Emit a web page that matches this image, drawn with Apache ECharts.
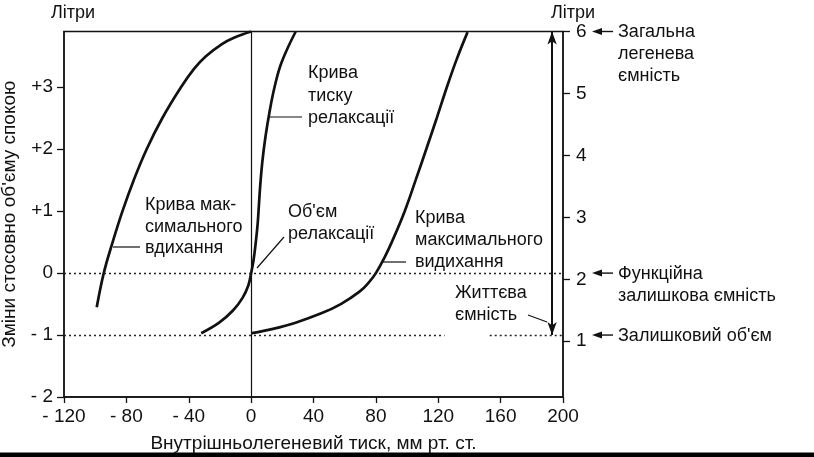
<!DOCTYPE html>
<html><head><meta charset="utf-8">
<script src="https://cdn.jsdelivr.net/npm/echarts@6/dist/echarts.min.js"></script>
<style>html,body{margin:0;padding:0;background:#fff}#c{width:814px;height:457px}</style>
</head><body><div id="c"></div>
<script>
// ---- data ----
const xTicks = [-120, -80, -40, 0, 40, 80, 120, 160, 200];
const leftTicks = [-2, -1, 0, 1, 2, 3];
const rightTicks = [1, 2, 3, 4, 5, 6];
// Крива максимального вдихання
const inspX = [-99, -94.5, -88.8, -82.5, -75.3, -67, -57, -45, -36.5, -29, -18.5, -11, 0];
const inspY = [-0.55, 0, 0.5, 1.0, 1.5, 2.0, 2.5, 3.0, 3.3, 3.5, 3.7, 3.8, 3.9];
// Крива тиску релаксації
const relX = [-32, -20.5, -11.5, -5.5, -1.8, 0, 1.5, 3, 4.2, 5, 5.8, 7.2, 9.2, 11.8, 15, 19.5, 28.6];
const relY = [-0.97, -0.8, -0.6, -0.4, -0.2, 0, 0.2, 0.5, 0.8, 1.1, 1.4, 1.8, 2.2, 2.6, 3.0, 3.4, 3.9];
// Крива максимального видихання
const expX = [0.5, 14, 28.5, 45, 57.5, 69.5, 75.5, 80, 85.5, 90.2, 98.5, 105.5, 112.3, 119, 125.5, 131.8, 138.8];
const expY = [-0.97, -0.9, -0.8, -0.65, -0.5, -0.3, -0.15, 0, 0.25, 0.5, 1.0, 1.5, 2.0, 2.5, 3.0, 3.45, 3.89];
// Об'єми (ліва шкала): рівень спокою 0, залишковий -1; життєва ємність від -1 до 3.9
const restLevel = 0;
const residualLevel = -1;
const vcTop = 3.9;
const vcX = 193;
const residualGap = [124, 153];
// Праві позначки (літри)
const rightMarks = [6, 2.1, 1.1];

const FONT = '"Liberation Sans", Arial, sans-serif';
const pairs = (xs, ys) => xs.map((x, i) => [x, ys[i]]);
const fmtX = v => v < 0 ? '- ' + (-v) : String(v);
const fmtL = v => v > 0 ? '+' + v : (v < 0 ? '- ' + (-v) : '0');

const chart = echarts.init(document.getElementById('c'), null, {renderer: 'canvas'});
const curveStyle = {color: '#111', width: 2.7};
const dotted = {color: '#222', width: 1.4, type: [2, 3]};

chart.setOption({
  animation: false,
  backgroundColor: '#fff',
  grid: {left: 64, right: 251, top: 31.5, bottom: 60, show: true, borderColor: '#111', borderWidth: 1.3, containLabel: false, outerBoundsMode: 'none'},
  xAxis: {
    type: 'value', min: -120, max: 200, interval: 40,
    axisLine: {show: true, onZero: false, lineStyle: {color: '#111', width: 1.5}},
    axisTick: {show: true, length: 6, lineStyle: {color: '#111', width: 1.3}, customValues: xTicks},
    axisLabel: {color: '#111', fontSize: 19, fontFamily: FONT, margin: 10, formatter: fmtX, customValues: xTicks},
    splitLine: {show: false},
    name: 'Внутрішньолегеневий тиск, мм рт. ст.', nameLocation: 'middle', nameGap: 37,
    nameTextStyle: {color: '#111', fontSize: 19, fontFamily: FONT}
  },
  yAxis: [{
    type: 'value', min: -2, max: 3.9, position: 'left',
    axisLine: {show: true, onZero: false, lineStyle: {color: '#111', width: 1.5}},
    axisTick: {show: true, length: 7, lineStyle: {color: '#111', width: 1.3}, customValues: leftTicks},
    axisLabel: {color: '#111', fontSize: 19, fontFamily: FONT, margin: 11, formatter: fmtL, customValues: leftTicks},
    splitLine: {show: false},
    name: 'Зміни стосовно об\'єму спокою', nameLocation: 'middle', nameGap: 45, nameRotate: 90,
    nameTextStyle: {color: '#111', fontSize: 19, fontFamily: FONT}
  }, {
    type: 'value', min: 0.1, max: 6.0, position: 'right',
    axisLine: {show: true, onZero: false, lineStyle: {color: '#111', width: 1.5}},
    axisTick: {show: true, length: 7, lineStyle: {color: '#111', width: 1.3}, customValues: rightTicks},
    axisLabel: {color: '#111', fontSize: 19, fontFamily: FONT, margin: 13, customValues: rightTicks},
    splitLine: {show: false}
  }],
  series: [{
    type: 'line', name: 'Крива максимального вдихання', data: pairs(inspX, inspY),
    smooth: 0.4, showSymbol: false, symbol: 'none', lineStyle: curveStyle, silent: true,
    markLine: {
      silent: true, symbol: ['none', 'none'], label: {show: false}, animation: false,
      data: [
        {xAxis: 0, lineStyle: {color: '#111', width: 1.2, type: 'solid'}},
        {yAxis: restLevel, lineStyle: dotted},
        [{coord: [-120, residualLevel], lineStyle: dotted}, {coord: [residualGap[0], residualLevel]}],
        [{coord: [residualGap[1], residualLevel], lineStyle: dotted}, {coord: [200, residualLevel]}],
        [{coord: [vcX, vcTop], symbol: 'arrow', symbolSize: [7, 13], lineStyle: {color: '#111', width: 2, type: 'solid'}},
         {coord: [vcX, residualLevel], symbol: 'arrow', symbolSize: [7, 13]}]
      ]
    }
  }, {
    type: 'line', name: 'Крива тиску релаксації', data: pairs(relX, relY),
    smooth: 0.4, showSymbol: false, symbol: 'none', lineStyle: curveStyle, silent: true
  }, {
    type: 'line', name: 'Крива максимального видихання', data: pairs(expX, expY),
    smooth: 0.4, showSymbol: false, symbol: 'none', lineStyle: curveStyle, silent: true
  }]
});

// ---- annotations ----
const g = [];
function txt(s, x, y, align) {
  g.push({type: 'text', x: x, y: y, silent: true,
    style: {text: s, fill: '#111', font: '18px ' + FONT, align: align || 'left', verticalAlign: 'middle'}});
}
function seg(x1, y1, x2, y2, w) {
  g.push({type: 'line', silent: true, shape: {x1, y1, x2, y2}, style: {stroke: '#111', lineWidth: w || 1.2}});
}
txt('Літри', 73, 13, 'center');
txt('Літри', 573, 13, 'center');
txt('Крива мак-', 145, 205); txt('симального', 145, 227); txt('вдихання', 145, 248);
seg(113, 247, 140, 247);
txt('Крива', 308, 73); txt('тиску', 308, 96); txt('релаксації', 308, 118);
seg(268, 117, 302, 117);
txt('Об\'єм', 288, 212); txt('релаксації', 288, 234);
seg(257, 268, 284, 237);
txt('Крива', 415, 218); txt('максимального', 415, 240); txt('видихання', 415, 262);
seg(383, 262, 406, 262);
txt('Життєва', 455, 293); txt('ємність', 455, 315);
seg(528, 315, 547, 322);

const rightTexts = [['Загальна', 'легенева', 'ємність'], ['Функційна', 'залишкова ємність'], ['Залишковий об\'єм']];
rightMarks.forEach((v, i) => {
  const py = chart.convertToPixel({yAxisIndex: 1}, v);
  seg(600, py, 613, py, 1.4);
  g.push({type: 'polygon', silent: true, shape: {points: [[592, py], [602, py - 3.5], [602, py + 3.5]]}, style: {fill: '#111'}});
  rightTexts[i].forEach((s, j) => txt(s, 618, py + 1 + j * 22));
});
g.push({type: 'rect', silent: true, shape: {x: 0, y: 452.5, width: 814, height: 5}, style: {fill: '#000'}});
chart.setOption({graphic: g});
</script></body></html>
